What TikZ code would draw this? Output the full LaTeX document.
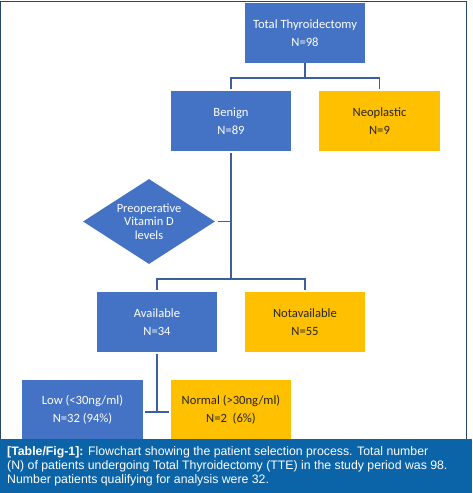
\documentclass[tikz,border=0pt]{standalone}
\usepackage{fontspec}
\setmainfont{Carlito}
\newfontfamily\capfont{Liberation Sans}
\usetikzlibrary{shapes.geometric}
\definecolor{boxblue}{HTML}{4472C4}
\definecolor{boxgold}{HTML}{FFC000}
\definecolor{lineblue}{HTML}{3C5F9E}
\definecolor{capblue}{HTML}{0B63A8}
\definecolor{frameblue}{HTML}{24476B}
\begin{document}
\begin{tikzpicture}[x=1pt,y=-1pt,
  bluebox/.style={rectangle,fill=boxblue,text=white,minimum width=120pt,minimum height=60pt,inner sep=0pt,align=center,font=\fontsize{12.6}{18.5}\selectfont},
  goldbox/.style={bluebox,fill=boxgold,text=black!85},
  conn/.style={draw=lineblue,line width=1.5pt}]
\useasboundingbox (0,0) rectangle (472,493);
\fill[white] (0,0) rectangle (472,493);
% nodes
\node[bluebox] (top) at (305,33) {Total Thyroidectomy\\N=98};
\node[bluebox] (benign) at (231,121) {Benign\\N=89};
\node[goldbox,minimum width=121pt] (neo) at (379.5,121) {Neoplastic\\N=9};
\node[diamond,fill=boxblue,text=white,minimum width=132pt,minimum height=85pt,aspect=1.55,inner sep=0pt,align=center,font=\fontsize{12.4}{13.6}\selectfont] (vit) at (149,221.5) {Preoperative\\Vitamin D\\levels};
\node[bluebox] (avail) at (157,322) {Available\\N=34};
\node[goldbox] (notav) at (305,322) {Notavailable\\N=55};
\node[bluebox,minimum width=121pt] (low) at (82.5,410) {Low (<30ng/ml)\\N=32 (94\%)};
\node[goldbox] (normal) at (231,410) {Normal (>30ng/ml)\\N=2~~(6\%)};
% connectors
\coordinate (j1) at (305,78);
\coordinate (j2) at (231,279);
\coordinate (j3) at (157,412);
\draw[conn] (top.south) -- (j1);
\draw[conn,shorten >=2pt] (j1) -| (benign.north);
\draw[conn,shorten >=2pt] (j1) -| (neo.north);
\draw[conn,shorten <=2pt] (benign.south) -- (j2);
\draw[conn,shorten >=1.5pt] (j2) -| (avail.north);
\draw[conn,shorten >=1.5pt] (j2) -| (notav.north);
\draw[conn,shorten <=3pt] (vit.east) -- (vit.east -| benign.south);
\draw[conn,shorten <=2pt] (avail.south) -- (j3);
\draw[conn,shorten <=2pt,shorten >=2pt] (j3 -| low.east) -- (j3 -| normal.west);
% frame
\draw[frameblue,line width=1.2pt] (0.6,1.2) -- (466.5,1.2) -- (466.5,440);
\draw[frameblue,line width=1.2pt] (0.6,1.2) -- (0.6,440);
% caption band
\fill[capblue] (0,439) rectangle (472,493);
\node[anchor=north west,inner sep=0pt,text=white,align=left,font=\capfont\fontsize{12.3}{14}\selectfont] (cap) at (7,446)
 {\textbf{[Table/Fig-1]:} Flowchart showing the patient selection process. Total number\\(N) of patients undergoing Total Thyroidectomy (TTE) in the study period was 98.\\Number patients qualifying for analysis were 32.};
\end{tikzpicture}
\end{document}
